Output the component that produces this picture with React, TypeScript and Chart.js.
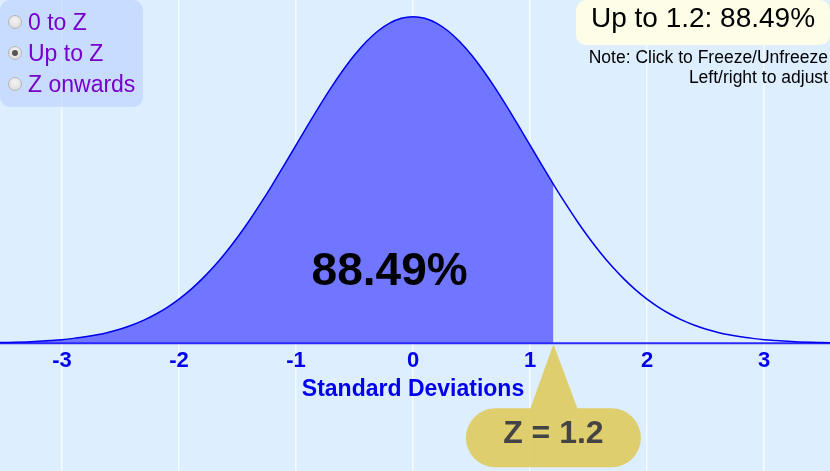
import React, { useEffect, useRef } from "react";
import { Chart, registerables } from "chart.js";

Chart.register(...registerables);

// ---- data ----
const Z_VALUES = [
  -3.6, -3.5, -3.4, -3.3, -3.2, -3.1, -3.0, -2.9, -2.8, -2.7, -2.6, -2.5, -2.4,
  -2.3, -2.2, -2.1, -2.0, -1.9, -1.8, -1.7, -1.6, -1.5, -1.4, -1.3, -1.2, -1.1,
  -1.0, -0.9, -0.8, -0.7, -0.6, -0.5, -0.4, -0.3, -0.2, -0.1, 0.0, 0.1, 0.2,
  0.3, 0.4, 0.5, 0.6, 0.7, 0.8, 0.9, 1.0, 1.1, 1.2, 1.3, 1.4, 1.5, 1.6, 1.7,
  1.8, 1.9, 2.0, 2.1, 2.2, 2.3, 2.4, 2.5, 2.6, 2.7, 2.8, 2.9, 3.0, 3.1, 3.2,
  3.3, 3.4, 3.5, 3.6,
];
const DENSITY = [
  0.0006, 0.0009, 0.0012, 0.0017, 0.0024, 0.0033, 0.0044, 0.006, 0.0079,
  0.0104, 0.0136, 0.0175, 0.0224, 0.0283, 0.0355, 0.044, 0.054, 0.0656, 0.079,
  0.094, 0.1109, 0.1295, 0.1497, 0.1714, 0.1942, 0.2179, 0.242, 0.2661, 0.2897,
  0.3123, 0.3332, 0.3521, 0.3683, 0.3814, 0.391, 0.397, 0.3989, 0.397, 0.391,
  0.3814, 0.3683, 0.3521, 0.3332, 0.3123, 0.2897, 0.2661, 0.242, 0.2179,
  0.1942, 0.1714, 0.1497, 0.1295, 0.1109, 0.094, 0.079, 0.0656, 0.054, 0.044,
  0.0355, 0.0283, 0.0224, 0.0175, 0.0136, 0.0104, 0.0079, 0.006, 0.0044,
  0.0033, 0.0024, 0.0017, 0.0012, 0.0009, 0.0006,
];
const Z_CUTOFF = 1.2;
const TICK_VALUES = [-3, -2, -1, 0, 1, 2, 3];
const TICK_LABELS = ["-3", "-2", "-1", "0", "1", "2", "3"];
const AREA_LABEL = "88.49%";
const AXIS_TITLE = "Standard Deviations";
const CALLOUT_LABEL = "Z = 1.2";
const MODES = ["0 to Z", "Up to Z", "Z onwards"];
const SELECTED_MODE = 1;
const RESULT_TEXT = "Up to 1.2: 88.49%";
const NOTE_LINES = ["Note: Click to Freeze/Unfreeze", "Left/right to adjust"];

const FONT = '"Liberation Sans", Arial, Helvetica, sans-serif';

const labelsPlugin = {
  id: "labelsPlugin",
  afterDatasetsDraw(chart: any) {
    const { ctx } = chart;
    const xs = chart.scales.x;
    const ys = chart.scales.y;
    const y0 = ys.getPixelForValue(0);
    ctx.save();
    ctx.textAlign = "center";
    ctx.textBaseline = "alphabetic";
    ctx.fillStyle = "#0000ee";
    ctx.font = `bold 22px ${FONT}`;
    TICK_VALUES.forEach((v, i) => {
      ctx.fillText(TICK_LABELS[i], xs.getPixelForValue(v), y0 + 23.5);
    });
    ctx.font = `bold 23px ${FONT}`;
    ctx.fillText(AXIS_TITLE, xs.getPixelForValue(0), y0 + 53);
    ctx.fillStyle = "#000000";
    ctx.font = `bold 46px ${FONT}`;
    ctx.fillText(AREA_LABEL, xs.getPixelForValue(-0.2), y0 - 58);
    ctx.restore();
  },
  afterDraw(chart: any) {
    const { ctx } = chart;
    const xs = chart.scales.x;
    const ys = chart.scales.y;
    const y0 = ys.getPixelForValue(0);
    const cx = xs.getPixelForValue(Z_CUTOFF);
    const top = y0 + 65;
    const h = 59;
    const w = 175;
    const r = h / 2;
    ctx.save();
    ctx.fillStyle = "rgba(222,202,90,0.88)";
    ctx.beginPath();
    ctx.moveTo(cx, y0 + 1);
    ctx.lineTo(cx + 24, top);
    ctx.lineTo(cx + w / 2 - r, top);
    ctx.arc(cx + w / 2 - r, top + r, r, -Math.PI / 2, Math.PI / 2);
    ctx.lineTo(cx - w / 2 + r, top + h);
    ctx.arc(cx - w / 2 + r, top + r, r, Math.PI / 2, (3 * Math.PI) / 2);
    ctx.lineTo(cx - 23, top);
    ctx.closePath();
    ctx.fill();
    ctx.fillStyle = "#444444";
    ctx.font = `bold 32px ${FONT}`;
    ctx.textAlign = "center";
    ctx.textBaseline = "alphabetic";
    ctx.fillText(CALLOUT_LABEL, cx, top + 35);
    ctx.restore();
  },
};

export default function App() {
  const canvasRef = useRef<HTMLCanvasElement | null>(null);

  useEffect(() => {
    const canvas = canvasRef.current;
    if (!canvas) return;
    const curve = Z_VALUES.map((z, i) => ({ x: z, y: DENSITY[i] }));
    const shaded = curve.filter((p) => p.x <= Z_CUTOFF);
    const chart = new Chart(canvas, {
      type: "line",
      data: {
        datasets: [
          {
            data: curve,
            fill: false,
            borderColor: "#0000ee",
            borderWidth: 1.5,
            pointRadius: 0,
            cubicInterpolationMode: "monotone",
          },
          {
            data: [
              { x: -3.6, y: 0 },
              { x: 3.6, y: 0 },
            ],
            fill: false,
            borderColor: "#2a2aff",
            borderWidth: 2,
            pointRadius: 0,
          },
          {
            data: shaded,
            fill: "origin",
            backgroundColor: "#7076ff",
            borderColor: "rgba(0,0,0,0)",
            borderWidth: 0,
            pointRadius: 0,
            cubicInterpolationMode: "monotone",
          },
        ],
      } as any,
      options: {
        animation: false,
        responsive: false,
        maintainAspectRatio: false,
        layout: { padding: 0 },
        plugins: { legend: { display: false }, tooltip: { enabled: false } },
        events: [],
        scales: {
          x: {
            type: "linear",
            min: -3.53,
            max: 3.564,
            z: 1,
            afterFit: (s: any) => {
              s.height = 0;
            },
            ticks: { display: false, stepSize: 1, includeBounds: false },
            grid: { color: "rgba(255,255,255,0.72)", lineWidth: 1.5, drawTicks: false },
            border: { display: false },
          },
          y: {
            type: "linear",
            display: false,
            min: -0.156,
            max: 0.4193,
          },
        },
      } as any,
      plugins: [labelsPlugin],
    });
    return () => chart.destroy();
  }, []);

  return (
    <div
      style={{
        position: "fixed",
        left: 0,
        top: 0,
        width: 830,
        height: 471,
        background: "#ddeeff",
        overflow: "hidden",
        fontFamily: FONT,
      }}
    >
      <canvas ref={canvasRef} width={830} height={471} style={{ position: "absolute", left: 0, top: 0, width: 830, height: 471 }} />
      <div
        style={{
          position: "absolute",
          left: 0,
          top: 0,
          width: 143,
          height: 107,
          borderRadius: 10,
          background: "rgba(188,208,255,0.62)",
        }}
      >
        {MODES.map((m, i) => (
          <div
            key={m}
            style={{
              position: "absolute",
              left: 0,
              top: 6.5 + i * 31,
              height: 31,
              lineHeight: "31px",
              fontSize: 23,
              color: "#7700cc",
              whiteSpace: "nowrap",
            }}
          >
            <span
              style={{
                position: "absolute",
                left: 8,
                top: 8.5,
                width: 12,
                height: 12,
                borderRadius: "50%",
                border: "1px solid #b4b4b4",
                background: "radial-gradient(circle at 50% 35%, #f4f4f4 0%, #d8d8d8 100%)",
              }}
            >
              {i === SELECTED_MODE ? (
                <span
                  style={{
                    position: "absolute",
                    left: 3,
                    top: 3,
                    width: 6,
                    height: 6,
                    borderRadius: "50%",
                    background: "#555",
                  }}
                />
              ) : null}
            </span>
            <span style={{ position: "absolute", left: 28, top: 0 }}>{m}</span>
          </div>
        ))}
      </div>
      <div
        style={{
          position: "absolute",
          left: 576,
          top: 0,
          width: 254,
          height: 45,
          borderRadius: 10,
          background: "#fdfde8",
          textAlign: "center",
          fontSize: 28,
          lineHeight: "36px",
          color: "#000",
          whiteSpace: "nowrap",
        }}
      >
        {RESULT_TEXT}
      </div>
      <div
        style={{
          position: "absolute",
          right: 2,
          top: 47,
          textAlign: "right",
          fontSize: 17.5,
          lineHeight: "20px",
          color: "#000",
          whiteSpace: "nowrap",
        }}
      >
        {NOTE_LINES.map((l) => (
          <div key={l}>{l}</div>
        ))}
      </div>
    </div>
  );
}
